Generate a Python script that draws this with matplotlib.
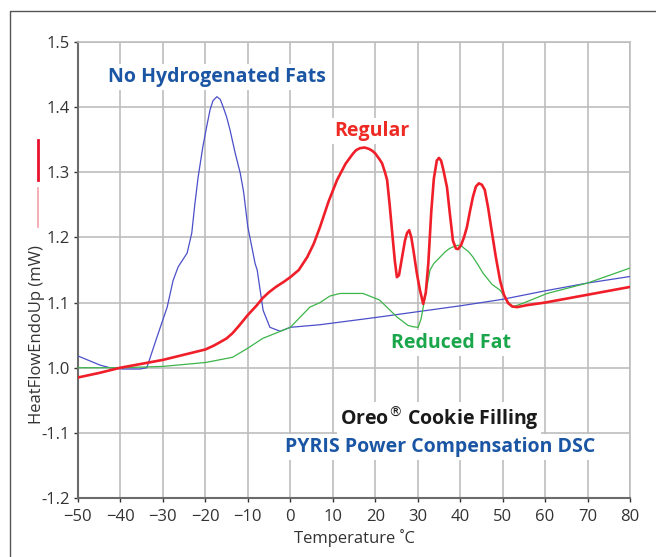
import numpy as np
import matplotlib
matplotlib.use("Agg")
import matplotlib.pyplot as plt
from matplotlib.lines import Line2D

plt.rcParams['font.family'] = ['Open Sans', 'DejaVu Sans']

# No Hydrogenated Fats (blue)
t_nohyd = [-50, -44.8, -42.5, -39.4, -35.4, -33.8, -31.4, -29, -27.6, -26.4, -24.3, -23.2,
           -22.5, -21.7, -20.6, -19.7, -18.9, -18.2, -17.3, -16.5, -15.8, -15, -14.2, -13,
           -11.8, -11, -10, -9.2, -8.3, -7.8, -6.4, -4.8, -2.4, 0, 7, 20, 30, 40, 50, 60,
           70, 80]
v_nohyd = [1.018, 1.004, 1.0, 0.998, 0.998, 1.0, 1.047, 1.093, 1.134, 1.155, 1.176, 1.207,
           1.25, 1.293, 1.339, 1.37, 1.396, 1.41, 1.416, 1.412, 1.40, 1.385, 1.365, 1.33,
           1.299, 1.27, 1.216, 1.19, 1.16, 1.15, 1.088, 1.062, 1.056, 1.062, 1.066, 1.077,
           1.086, 1.095, 1.105, 1.118, 1.13, 1.14]

# Regular (red)
t_reg = [-50, -45, -40, -35, -30, -25, -20, -18, -16.6, -15, -13.6, -12, -10, -8, -6.5, -5,
         -3.4, -1.5, 0, 2, 4, 5.5, 7, 9, 11, 13, 14.8, 15.5, 16.4, 17.5, 18.5, 19.3, 20, 21,
         21.6, 22.3, 22.8, 23.4, 24, 24.6, 25.1, 25.6, 26.2, 27, 27.5, 28, 28.5, 29, 29.8,
         30.5, 31.3, 31.9, 32.5, 33.2, 33.8, 34.5, 35, 35.5, 36, 36.9, 37.6, 38.3, 39, 39.5,
         40.2, 40.9, 41.6, 42.3, 43, 43.7, 44.4, 45.1, 45.8, 46.6, 47.5, 48.4, 49.4, 50.3,
         51.3, 52.3, 53.4, 55.7, 60, 70, 80]
v_reg = [0.985, 0.992, 1.0, 1.006, 1.012, 1.02, 1.028, 1.034, 1.039, 1.045, 1.053, 1.065,
         1.081, 1.095, 1.107, 1.116, 1.124, 1.132, 1.139, 1.15, 1.17, 1.19, 1.216, 1.255,
         1.288, 1.313, 1.329, 1.334, 1.337, 1.338, 1.336, 1.333, 1.329, 1.32, 1.314, 1.30,
         1.288, 1.25, 1.207, 1.165, 1.139, 1.142, 1.165, 1.195, 1.207, 1.211, 1.20, 1.18,
         1.145, 1.12, 1.098, 1.115, 1.16, 1.24, 1.29, 1.318, 1.322, 1.318, 1.305, 1.277,
         1.235, 1.195, 1.183, 1.182, 1.188, 1.20, 1.216, 1.24, 1.262, 1.278, 1.283, 1.281,
         1.273, 1.245, 1.207, 1.17, 1.134, 1.112, 1.099, 1.094, 1.093, 1.096, 1.10, 1.112,
         1.124]

# Reduced Fat (green)
t_red = [-50, -40, -30, -20, -13.6, -10, -6.5, 0, 4.6, 7, 9.3, 11.7, 17.1, 21, 25.1, 27.7,
         28.8, 30.1, 30.8, 31.5, 32.9, 33.8, 35.3, 36.5, 37.5, 38.5, 39.5, 40.3, 41, 42, 43,
         44.2, 45.4, 47.5, 49.4, 52.2, 54.8, 60.5, 70, 80]
v_red = [1.0, 1.0, 1.002, 1.008, 1.016, 1.03, 1.045, 1.062, 1.093, 1.10, 1.11, 1.114,
         1.114, 1.104, 1.078, 1.065, 1.063, 1.062, 1.075, 1.10, 1.15, 1.16, 1.17, 1.178,
         1.183, 1.186, 1.188, 1.187, 1.183, 1.178, 1.17, 1.158, 1.145, 1.128, 1.119, 1.093,
         1.099, 1.114, 1.13, 1.153]

xticks = list(range(-50, 81, 10))
yticks = [0.8, 0.9, 1.0, 1.1, 1.2, 1.3, 1.4, 1.5]
ytick_labels = ['-1.2', '-1.1', '1.0', '1.1', '1.2', '1.3', '1.4', '1.5']

fig = plt.figure(figsize=(6.56, 5.57), dpi=100)
ax = fig.add_axes([78/656, 1-498/557, 552/656, 456/557])

ax.plot(t_nohyd, v_nohyd, color='#4b4fc9', lw=0.9, zorder=3)
ax.plot(t_red, v_red, color='#3cb54a', lw=0.9, zorder=3)
ax.plot(t_reg, v_reg, color='#f01e28', lw=1.9, zorder=4)

ax.set_xlim(-50, 80)
ax.set_ylim(0.8, 1.5)
ax.set_xticks(xticks)
ax.set_yticks(yticks)
ax.set_yticklabels(ytick_labels)
ax.grid(True, color='#bdbdbd', lw=1.2)
ax.set_axisbelow(True)
for s in ['top', 'right']:
    ax.spines[s].set_color('#bdbdbd')
    ax.spines[s].set_linewidth(1.2)
for s in ['left', 'bottom']:
    ax.spines[s].set_color('#6b6b6b')
    ax.spines[s].set_linewidth(1.5)
ax.tick_params(labelsize=12, colors='#333333', length=3, width=1, pad=3)
ax.tick_params(axis='x', pad=5)

box = dict(facecolor='white', edgecolor='none', pad=2)
ax.text(0.252, 0.923, 'No Hydrogenated Fats', transform=ax.transAxes, ha='center', va='center',
        fontsize=14, fontweight='bold', color='#1b56a4', bbox=box, zorder=5)
ax.text(0.533, 0.805, 'Regular', transform=ax.transAxes, ha='center', va='center',
        fontsize=14, fontweight='bold', color='#ee2a24', bbox=box, zorder=5)
ax.text(0.676, 0.340, 'Reduced Fat', transform=ax.transAxes, ha='center', va='center',
        fontsize=14, fontweight='bold', color='#1aa64b', bbox=box, zorder=5)
ax.text(0.654, 0.175, 'Oreo$^{®}$ Cookie Filling', transform=ax.transAxes, ha='center',
        va='center', fontsize=14, fontweight='bold', color='#1a1a1a', bbox=box, zorder=5)
ax.text(0.656, 0.112, 'PYRIS Power Compensation DSC', transform=ax.transAxes, ha='center',
        va='center', fontsize=14, fontweight='bold', color='#1b56a4', bbox=box, zorder=5)

fig.text(37/656, 1-335/557, 'HeatFlowEndoUp (mW)', rotation=90, ha='center', va='center',
         fontsize=12, color='#333333')
fig.text(355/656, 1-538/557, 'Temperature ˚C', ha='center', va='center',
         fontsize=12, color='#333333')

# little trace markers next to the y label
fig.add_artist(Line2D([38/656, 38/656], [1-140/557, 1-180/557], color='#e8112d', lw=2))
fig.add_artist(Line2D([38/656, 38/656], [1-188/557, 1-227/557], color='#f4a0a8', lw=1.2))

# outer frame
fig.add_artist(Line2D([10/656, 10/656, 1.0], [0.0, 1-11/557, 1-11/557], color='#555555', lw=1))

fig.savefig('out.png', dpi=100)
